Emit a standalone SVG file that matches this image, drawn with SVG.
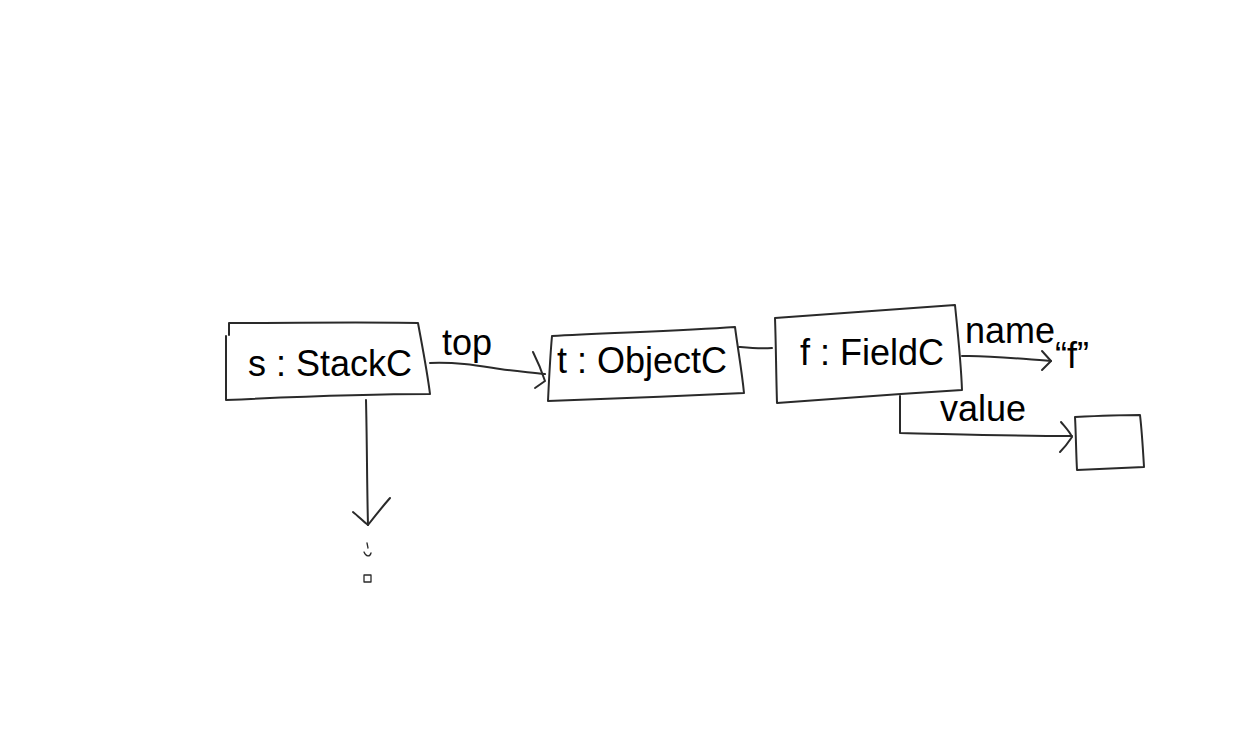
<svg xmlns="http://www.w3.org/2000/svg" width="1255" height="755" viewBox="0 0 1255 755">
<style>
.s{fill:none;stroke:#2a2a2a;stroke-width:2;stroke-linecap:round;stroke-linejoin:round}
.t{font-family:"Liberation Sans",Arial,sans-serif;font-size:36px;fill:#000}
</style>
<rect width="1255" height="755" fill="#fff"/>
<g id="connectors">
<path class="s" d="M430,363 C460,362 480,366 500,369 C520,372 530,372 545,374"/>
<path class="s" d="M533,352 C538,362 542,372 545,381 L535,388"/>
<path class="s" d="M739,347 C750,348 760,349 772,348"/>
<path class="s" d="M962,356 C990,355 1020,359 1051,361"/>
<path class="s" d="M1042,351 L1051,361 L1042,370"/>
<path class="s" d="M900,396 L900,433 C950,434 1010,436 1072,436"/>
<path class="s" d="M1061,422 C1066,428 1070,432 1072,437 C1068,443 1064,448 1060,452"/>
<path class="s" d="M366,400 C367,440 367,490 368,525"/>
<path class="s" d="M353,512 C358,516 363,521 368,525 C375,516 383,506 390,498"/>
<path class="s" d="M367,543 L368,548 M364,552 C366,557 370,557 371,553 M364,575 L371,575 L371,582 L364,582 Z" style="stroke-width:1.3"/>
</g>
<g id="node-stack">
<path class="s" d="M229,323 C300,323 360,322 418,323 C422,345 427,370 430,394 C360,394 290,397 226,400 L226,336 M229,323 L229,335"/>
<text class="t" x="248" y="376">s : StackC</text>
</g>
<text class="t" x="442" y="355">top</text>
<g id="node-object">
<path class="s" d="M552,336 C600,333 680,331 735,327 C738,350 742,372 744,393 C680,396 610,399 548,401 C549,380 550,358 552,336"/>
<text class="t" x="557" y="373">t : ObjectC</text>
</g>
<g id="node-field">
<path class="s" d="M775,318 C830,314 900,309 955,305 C958,335 961,362 962,390 C900,394 830,399 777,403 C776,370 776,345 775,318"/>
<text class="t" x="800" y="365">f : FieldC</text>
</g>
<text class="t" x="965" y="343">name</text>
<g id="node-string">
<text class="t" x="1055" y="368">“f”</text>
</g>
<text class="t" x="940" y="421">value</text>
<g id="node-value">
<path class="s" d="M1075,417 C1095,416 1120,415 1140,415 C1142,432 1143,450 1144,467 C1120,468 1098,469 1077,470 C1076,452 1076,435 1075,417"/>
</g>
</svg>
